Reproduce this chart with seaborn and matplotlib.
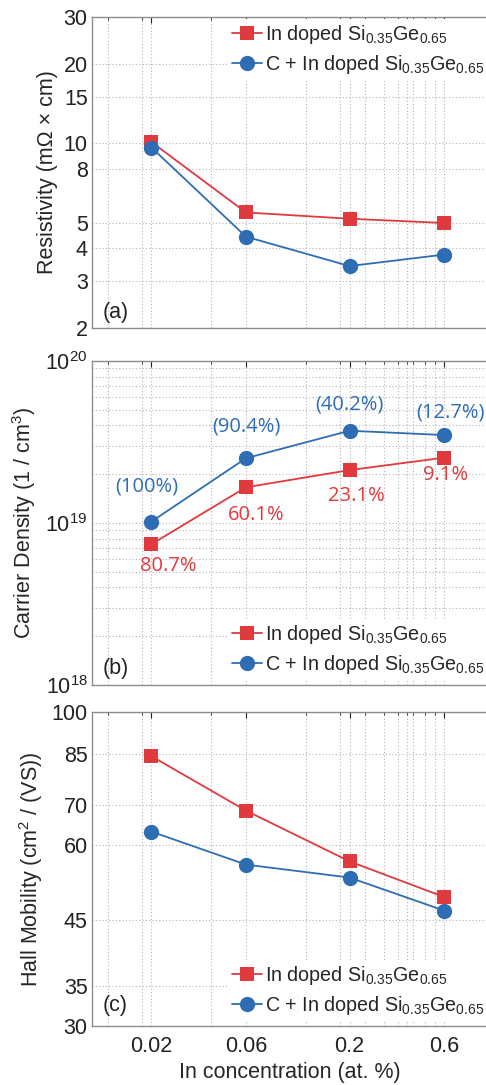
"""Resistivity, carrier density and Hall mobility of In doped SiGe."""

import matplotlib.pyplot as plt
import matplotlib.ticker as mticker
import numpy as np
import pandas as pd
import seaborn as sns

sns.set_style("white")
plt.rcParams["font.family"] = ["Liberation Sans", "DejaVu Sans"]
plt.rcParams["mathtext.default"] = "regular"

# data
conc = [0.02, 0.06, 0.2, 0.6]
series = ["In doped Si$_{0.35}$Ge$_{0.65}$", "C + In doped Si$_{0.35}$Ge$_{0.65}$"]

res_in = [10.1, 5.47, 5.18, 4.99]
res_cin = [9.63, 4.43, 3.43, 3.79]
dens_in = [7.4e18, 1.66e19, 2.12e19, 2.53e19]
dens_cin = [1.02e19, 2.51e19, 3.71e19, 3.49e19]
mob_in = [84.4, 68.5, 56.4, 49.2]
mob_cin = [63.2, 55.7, 53.0, 46.7]

act_in = ["80.7%", "60.1%", "23.1%", "9.1%"]
act_cin = ["(100%)", "(90.4%)", "(40.2%)", "(12.7%)"]

x_ticks = [0.02, 0.06, 0.2, 0.6]
x_grid_minor = [0.012, 0.018, 0.04, 0.12, 0.18, 0.24, 0.3, 0.35, 0.39, 0.42, 0.48, 0.54]
res_ticks = [2, 3, 4, 5, 8, 10, 15, 20, 30]
mob_ticks = [30, 35, 45, 60, 70, 85, 100]

RED = "#e0393e"
BLUE = "#2e6db4"
GRID = "#b4b4b4"
FS = 15.5

# annotation offsets in pixels (dx, dy)
off_in = [(17, -22), (10, -28), (7, -26), (2, -17)]
off_cin = [(-5, 35), (0, 32), (0, 26), (6, 23)]


def make_df(a, b):
    return pd.DataFrame({
        "conc": conc * 2,
        "val": list(a) + list(b),
        "series": [series[0]] * len(a) + [series[1]] * len(b),
    })


def draw(ax, df):
    sns.lineplot(data=df, x="conc", y="val", hue="series", style="series",
                 hue_order=series, style_order=series,
                 palette=[RED, BLUE], markers=["s", "o"], dashes=False,
                 markersize=9.5, markeredgewidth=0, linewidth=1.3,
                 legend=False, ax=ax)
    ax.lines[1].set_markersize(11)


def style_axes(ax):
    ax.set_xscale("log")
    ax.set_xlim(0.01, 1.0)
    ax.xaxis.set_major_locator(mticker.FixedLocator(x_ticks))
    ax.xaxis.set_major_formatter(mticker.FixedFormatter([str(v) for v in x_ticks]))
    ax.xaxis.set_minor_locator(mticker.FixedLocator(x_grid_minor))
    ax.xaxis.set_minor_formatter(mticker.NullFormatter())
    ax.grid(True, which="both", linestyle=(0, (1, 2)), color=GRID, linewidth=0.8)
    ax.tick_params(which="both", direction="in", top=True, right=False,
                   labelsize=FS, colors="#222222")
    ax.tick_params(which="major", length=4, width=0.8, pad=3)
    ax.tick_params(which="minor", length=2, width=0.6)
    ax.tick_params(axis="x", pad=7)
    for sp in ax.spines.values():
        sp.set_color("#8c8c8c")
        sp.set_linewidth(1.0)
    # the original figure is cropped just at the right edge of the axes
    ax.spines["right"].set_visible(False)
    ax.set_xlabel("")


def add_legend(ax, top):
    if top:
        kw = dict(loc="upper left", bbox_to_anchor=(0.345, 0.995))
    else:
        kw = dict(loc="lower left", bbox_to_anchor=(0.345, 0.015))
    leg = ax.legend(handles=ax.lines[:2], labels=series, fontsize=14.2,
                    frameon=True, fancybox=False, framealpha=1,
                    handlelength=1.5, handletextpad=0.15, labelspacing=0.38,
                    borderpad=0.2, borderaxespad=0.0, numpoints=1, **kw)
    leg.get_frame().set_edgecolor("none")
    leg.get_frame().set_facecolor("white")


fig = plt.figure(figsize=(4.86, 10.85), dpi=100)
L, W = 0.189, 0.815
ax_a = fig.add_axes([L, 0.6977, W, 0.2866])
ax_b = fig.add_axes([L, 0.3687, W, 0.2986])
ax_c = fig.add_axes([L, 0.0544, W, 0.2894])

# (a) resistivity
draw(ax_a, make_df(res_in, res_cin))
style_axes(ax_a)
ax_a.set_yscale("log")
ax_a.set_ylim(2, 30)
ax_a.yaxis.set_major_locator(mticker.FixedLocator(res_ticks))
ax_a.yaxis.set_major_formatter(mticker.FixedFormatter([str(v) for v in res_ticks]))
ax_a.yaxis.set_minor_locator(mticker.NullLocator())
ax_a.set_ylabel("Resistivity (m\u03a9 \u00d7 cm)", fontsize=FS)
ax_a.yaxis.set_label_coords(-0.086, 0.5)
ax_a.tick_params(axis="x", labelbottom=False)
ax_a.text(0.028, 0.05, "(a)", transform=ax_a.transAxes, fontsize=FS,
          va="center", ha="left", color="#222222")
add_legend(ax_a, True)

# (b) carrier density
draw(ax_b, make_df(dens_in, dens_cin))
style_axes(ax_b)
ax_b.set_yscale("log")
ax_b.set_ylim(1e18, 1e20)
ax_b.yaxis.set_major_locator(mticker.LogLocator(base=10, numticks=5))
ax_b.yaxis.set_minor_locator(mticker.LogLocator(base=10, subs=np.arange(2, 10), numticks=20))
ax_b.yaxis.set_minor_formatter(mticker.NullFormatter())
ax_b.set_ylabel("Carrier Density (1 / cm$^3$)", fontsize=FS)
ax_b.yaxis.set_label_coords(-0.137, 0.5)
ax_b.tick_params(axis="x", labelbottom=False)
ax_b.text(0.028, 0.052, "(b)", transform=ax_b.transAxes, fontsize=FS,
          va="center", ha="left", color="#222222")
for x, y, t, o in zip(conc, dens_in, act_in, off_in):
    ax_b.annotate(t, (x, y), xytext=o, textcoords="offset pixels", color=RED,
                  fontsize=14.5, family="Open Sans", ha="center", va="center")
for x, y, t, o in zip(conc, dens_cin, act_cin, off_cin):
    ax_b.annotate(t, (x, y), xytext=o, textcoords="offset pixels", color=BLUE,
                  fontsize=14.5, family="Open Sans", ha="center", va="center")
add_legend(ax_b, False)

# (c) Hall mobility
draw(ax_c, make_df(mob_in, mob_cin))
style_axes(ax_c)
ax_c.set_yscale("log")
ax_c.set_ylim(30, 100)
ax_c.yaxis.set_major_locator(mticker.FixedLocator(mob_ticks))
ax_c.yaxis.set_major_formatter(mticker.FixedFormatter([str(v) for v in mob_ticks]))
ax_c.yaxis.set_minor_locator(mticker.NullLocator())
ax_c.set_ylabel("Hall Mobility (cm$^2$ / (VS))", fontsize=FS)
ax_c.yaxis.set_label_coords(-0.119, 0.5)
ax_c.set_xlabel("In concentration (at. %)", fontsize=FS)
ax_c.xaxis.set_label_coords(0.5, -0.115)
ax_c.xaxis.label.set_va("top")
ax_c.text(0.028, 0.064, "(c)", transform=ax_c.transAxes, fontsize=FS,
          va="center", ha="left", color="#222222")
add_legend(ax_c, False)

fig.savefig("out.png", dpi=100)
plt.close(fig)
